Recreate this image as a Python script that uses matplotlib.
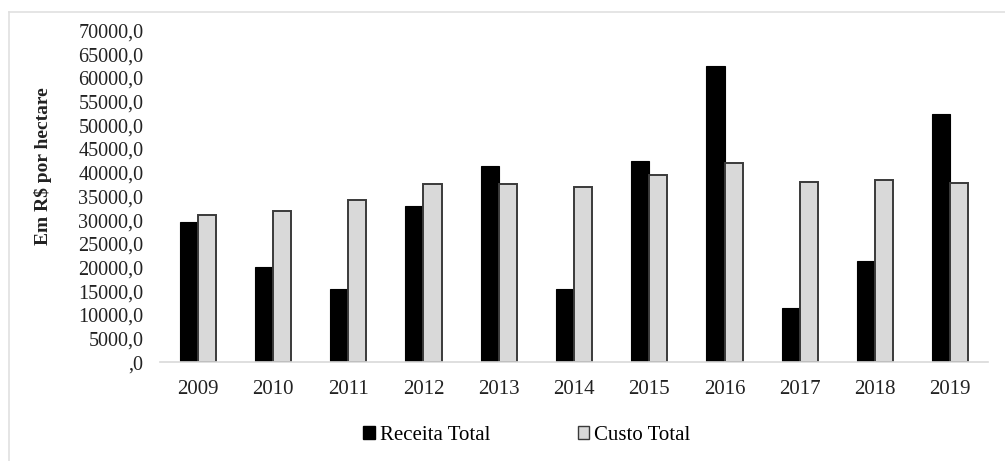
import numpy as np
import matplotlib
matplotlib.use('Agg')
from matplotlib import pyplot as plt
from matplotlib.patches import Patch
from matplotlib.lines import Line2D

years = ['2009', '2010', '2011', '2012', '2013', '2014', '2015', '2016', '2017', '2018', '2019']
receita = [29700, 20200, 15500, 33000, 41500, 15500, 42500, 62500, 11500, 21400, 52300]
custo = [31000, 32000, 34200, 37600, 37600, 36900, 39500, 42100, 38100, 38400, 37800]
yticks = list(range(0, 70001, 5000))
ytick_labels = [(('%.1f' % v).replace('.', ',') if v else ',0') for v in yticks]

plt.rcParams['font.family'] = ['Liberation Serif', 'DejaVu Serif']

fig = plt.figure(figsize=(10.05, 4.61), dpi=100)
ax = fig.add_axes([160/1005, 1-362.3/461, 828/1005, 331.8/461])

x = np.arange(len(years))
w = 0.24
ax.bar(x - w/2, receita, w, color='black', edgecolor='black', linewidth=0.8)
ax.bar(x + w/2, custo, w, color='#d9d9d9', edgecolor='#3a3a3a', linewidth=1.4)

ax.set_xlim(-0.5, len(years) - 0.5)
ax.set_ylim(0, 70000)
ax.set_yticks(yticks)
ax.set_yticklabels(ytick_labels, fontsize=14.5, color='#222222')
ax.set_xticks(x)
ax.set_xticklabels(years, fontsize=15, color='#222222')
ax.tick_params(axis='y', length=0, pad=12)
ax.tick_params(axis='x', length=0, pad=13)
for s in ['top', 'right', 'left']:
    ax.spines[s].set_visible(False)
ax.spines['bottom'].set_color('#d9d9d9')
ax.spines['bottom'].set_linewidth(1.2)

fig.text(43/1005, 1-166.5/461, 'Em R$ por hectare', rotation=90, fontsize=14,
         fontweight='bold', ha='center', va='center', color='#222222')

# light frame around the chart (top and left visible)
fig.add_artist(Line2D([9/1005, 1.0], [1-12/461, 1-12/461], color='#e0e0e0', linewidth=1.2))
fig.add_artist(Line2D([9/1005, 9/1005], [0.0, 1-12/461], color='#e0e0e0', linewidth=1.2))

handles = [Patch(facecolor='black', edgecolor='black', label='Receita Total'),
           Patch(facecolor='#d9d9d9', edgecolor='#3a3a3a', label='Custo Total')]
fig.legend(handles=handles, loc='center', bbox_to_anchor=(527/1005, 1-435/461), ncol=2,
           frameon=False, fontsize=15, handlelength=0.55, handleheight=0.6,
           handletextpad=0.25, columnspacing=4.2)

fig.savefig('out.png', dpi=100)
